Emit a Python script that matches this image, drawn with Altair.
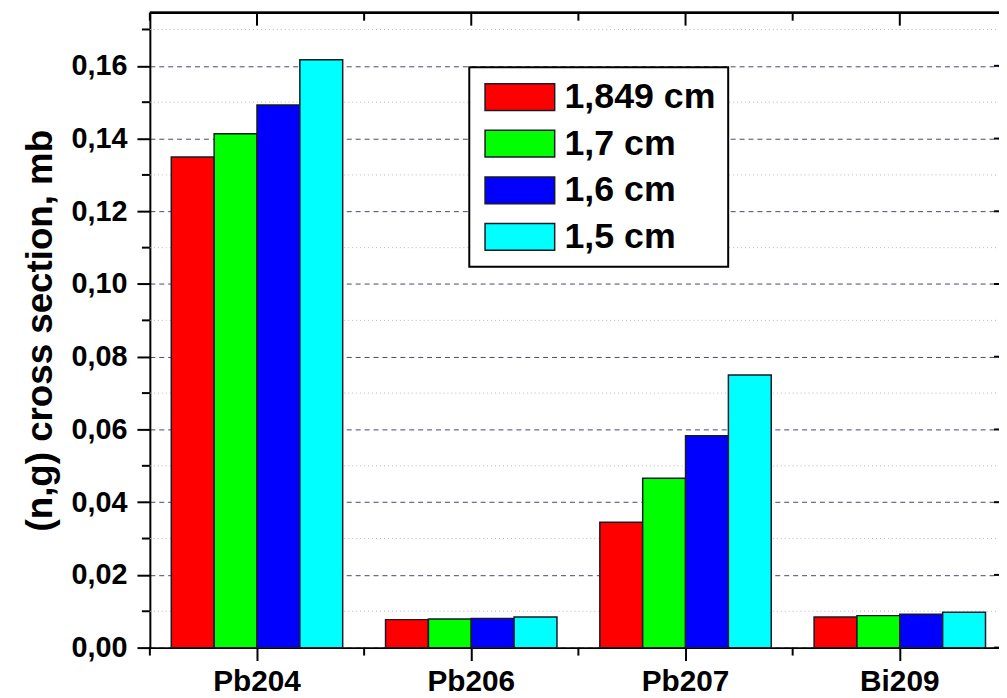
import altair as alt
import pandas as pd

isotopes = ["Pb204", "Pb206", "Pb207", "Bi209"]
series = ["1,849 cm", "1,7 cm", "1,6 cm", "1,5 cm"]
colors = ["#ff0000", "#00ff00", "#0000ff", "#00ffff"]

v_1849 = [0.1349, 0.0077, 0.0345, 0.0084]
v_17 = [0.1413, 0.0079, 0.0466, 0.0088]
v_16 = [0.1492, 0.0080, 0.0583, 0.0092]
v_15 = [0.1617, 0.0084, 0.0750, 0.0097]

major_ticks = [0.0, 0.02, 0.04, 0.06, 0.08, 0.10, 0.12, 0.14, 0.16]
minor_ticks = [0.01, 0.03, 0.05, 0.07, 0.09, 0.11, 0.13, 0.15, 0.17]
y_max = 0.1746

rows = []
for s, vals in zip(series, [v_1849, v_17, v_16, v_15]):
    for iso, v in zip(isotopes, vals):
        rows.append({"isotope": iso, "series": s, "value": v})
df = pd.DataFrame(rows)
df_iso = pd.DataFrame({"isotope": isotopes})
df_major = pd.DataFrame({"value": major_ticks})
df_minor = pd.DataFrame({"value": minor_ticks})

W = 856
H = 640
XR = 864
FONT = "Liberation Sans"

xscale = alt.Scale(domain=isotopes, paddingInner=0, paddingOuter=0, range=[0, XR])
yscale = alt.Scale(domain=[0, y_max], nice=False, zero=True)

y_axis = alt.Axis(values=major_ticks,
                  labelExpr="replace(format(datum.value, '.2f'), '.', ',')",
                  labelFont=FONT, labelFontSize=29, labelFontWeight="bold",
                  labelColor="black", labelPadding=10,
                  domainColor="black", domainWidth=2,
                  tickColor="black", tickWidth=2, tickSize=13,
                  grid=True, gridColor="#45457a", gridWidth=1,
                  gridDash=[5, 4],
                  titleFont=FONT, titleFontSize=37, titleFontWeight="bold",
                  titleColor="black", titlePadding=12)
x_axis = alt.Axis(labelFont=FONT, labelFontSize=30, labelFontWeight="bold",
                  labelColor="black", labelAngle=0, labelPadding=6,
                  domainColor="black", domainWidth=2,
                  tickColor="black", tickWidth=2, tickSize=13,
                  grid=False)
Y_TITLE = "(n,g) cross section, mb"


def yenc():
    return alt.Y("value:Q", scale=yscale, title=Y_TITLE, axis=y_axis)


def xenc(**kw):
    return alt.X("isotope:N", scale=xscale, sort=isotopes, title=None, axis=x_axis, **kw)


minor_grid = alt.Chart(df_minor).mark_rule(
    color="#b8b8b8", strokeWidth=1, strokeDash=[1, 3]
).encode(y=yenc(), x=alt.value(0), x2=alt.value(XR))

bars = alt.Chart(df).mark_bar(stroke="#1a1a2a", strokeWidth=1.5).encode(
    x=xenc(),
    xOffset=alt.XOffset("series:N", sort=series,
                        scale=alt.Scale(paddingInner=0, paddingOuter=0.5)),
    y=yenc(),
    color=alt.Color("series:N", sort=series,
                    scale=alt.Scale(domain=series, range=colors),
                    legend=alt.Legend(
                        title=None, orient="none", legendX=322, legendY=55,
                        fillColor="white", strokeColor="black",
                        padding=12, rowPadding=11,
                        symbolType="M-2.6,-1H2.6V1H-2.6Z", symbolSize=729,
                        symbolOffset=21,
                        symbolStrokeColor="#1a1a2a", symbolStrokeWidth=1.5,
                        symbolOpacity=1,
                        labelFont=FONT, labelFontSize=36, labelFontWeight="bold",
                        labelColor="black", labelOffset=27, labelLimit=400)),
)

left_minor = alt.Chart(df_minor).mark_rule(color="black", strokeWidth=2).encode(
    y=yenc(), x=alt.value(-8), x2=alt.value(0),
)
right_major = alt.Chart(df_major).mark_rule(color="black", strokeWidth=2).encode(
    y=yenc(), x=alt.value(XR - 13), x2=alt.value(XR),
)
right_minor = alt.Chart(df_minor).mark_rule(color="black", strokeWidth=2).encode(
    y=yenc(), x=alt.value(XR - 8), x2=alt.value(XR),
)
top_major = alt.Chart(df_iso).mark_rule(color="black", strokeWidth=2).encode(
    x=xenc(), y=alt.value(0), y2=alt.value(13),
)
top_minor = alt.Chart(df_iso).mark_rule(color="black", strokeWidth=2).encode(
    x=xenc(bandPosition=0), y=alt.value(0), y2=alt.value(8),
)
bottom_minor = alt.Chart(df_iso).mark_rule(color="black", strokeWidth=2).encode(
    x=xenc(bandPosition=0), y=alt.value(H), y2=alt.value(H + 8),
)
top_frame = alt.Chart(df_iso).mark_rule(color="black", strokeWidth=2).encode(
    x=alt.value(0), x2=alt.value(XR), y=alt.value(0),
)

chart = alt.layer(
    minor_grid, bars, left_minor, right_major, right_minor,
    top_major, top_minor, bottom_minor, top_frame,
).properties(
    width=W, height=H,
    autosize=alt.AutoSizeParams(type="none"),
    padding={"left": 143, "top": 2, "right": 0, "bottom": 48},
    background="white",
).configure_view(stroke=None).configure_legend(strokeWidth=2)

chart.save("out.html", embed_options={"renderer": "svg", "actions": False})
